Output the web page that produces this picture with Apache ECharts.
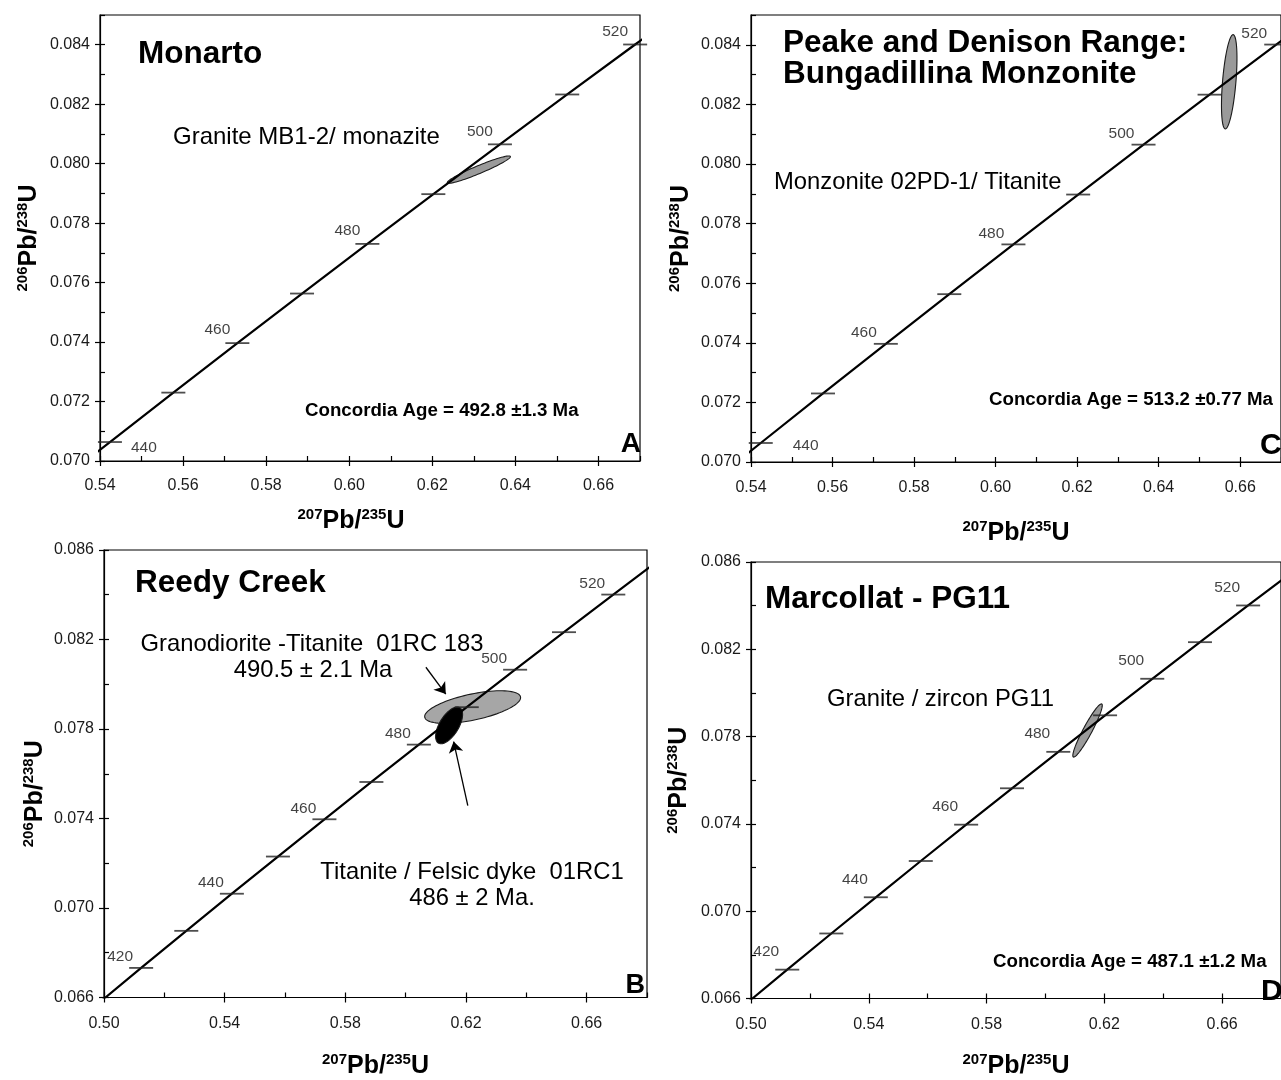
<!DOCTYPE html>
<html>
<head>
<meta charset="utf-8">
<script src="https://cdn.jsdelivr.net/npm/echarts@6/dist/echarts.min.js"></script>
<style>
html,body{margin:0;padding:0;background:#fff;}
#chart{width:1281px;height:1080px;}
</style>
</head>
<body>
<div id="chart"></div>
<script>
// ---------- DATA ----------
// Concordia curve points (age in Ma, 207Pb/235U, 206Pb/238U)
const concAges = [400, 410, 420, 430, 440, 450, 460, 470, 480, 490, 500, 510, 520, 530, 540];
const conc207  = [0.48281, 0.49749, 0.51231, 0.52728, 0.54239, 0.55766, 0.57307, 0.58864, 0.60437, 0.62025, 0.63628, 0.65248, 0.66883, 0.68535, 0.70203];
const conc206  = [0.064016, 0.065667, 0.067322, 0.068979, 0.070638, 0.072300, 0.073965, 0.075632, 0.077302, 0.078975, 0.080650, 0.082327, 0.084008, 0.085691, 0.087376];

// Age ticks shown on the concordia in each panel and the labelled ones
const tickAgesA = [440, 450, 460, 470, 480, 490, 500, 510, 520];
const tickAgesB = [420, 430, 440, 450, 460, 470, 480, 490, 500, 510, 520];
const tickAgesC = [440, 450, 460, 470, 480, 490, 500, 510, 520];
const tickAgesD = [420, 430, 440, 450, 460, 470, 480, 490, 500, 510, 520];
const labelAges = [420, 440, 460, 480, 500, 520];

// Error ellipses: [centre 207/235, centre 206/238, half-range x, half-range y, correlation]
const ellipsesA = [[0.6312, 0.07980, 0.0076, 0.00046, 0.95]];
const ellipsesB = [[0.6222, 0.07898, 0.0159, 0.00073, 0.58], [0.6144, 0.07816, 0.00447, 0.00082, 0.6]];
const ellipsesC = [[0.6573, 0.08276, 0.0019, 0.00158, 0.5]];
const ellipsesD = [[0.6143, 0.07828, 0.0050, 0.00122, 0.94]];

// Annotation arrows in panel B: [x1, y1, x2, y2]
const arrowsB = [[0.6067, 0.08076, 0.6133, 0.07956], [0.6206, 0.07458, 0.6159, 0.07744]];

// Axis tick labels
const xTicksAC = [0.54, 0.56, 0.58, 0.60, 0.62, 0.64, 0.66];
const yTicksAC = [0.070, 0.072, 0.074, 0.076, 0.078, 0.080, 0.082, 0.084];
const xTicksBD = [0.50, 0.54, 0.58, 0.62, 0.66];
const yTicksBD = [0.066, 0.070, 0.074, 0.078, 0.082, 0.086];

// ---------- LAYOUT / STYLE ----------
const FONT = '"Liberation Sans", Arial, Helvetica, sans-serif';
const panels = [
  { grid: {left: 100, top: 15, width: 540, height: 446},
    x: [0.54, 0.67], y: [0.070, 0.085], xTicks: xTicksAC, yTicks: yTicksAC, xMinor: 0.01, yMinor: 0.001,
    tickAges: tickAgesA, ellipses: ellipsesA, fills: ['#9a9a9a'],
    labOff: [-20, 1], rightAge: 440, rightOff: [4, 6], tickW: 24,
    xNameGap: 46, yNameGap: 57, xNamePad: [0, 38, 0, 0], yNamePad: [0, 0, 0, 0], xLabM: 17 },
  { grid: {left: 104, top: 550, width: 543, height: 450},
    x: [0.50, 0.68], y: [0.066, 0.086], xTicks: xTicksBD, yTicks: yTicksBD, xMinor: 0.02, yMinor: 0.002,
    tickAges: tickAgesB, ellipses: ellipsesB, fills: ['#a6a6a6', '#000000'],
    labOff: [-21, 3], rightAge: null, tickW: 24,
    xNameGap: 55, yNameGap: 55, xNamePad: [0, 0, 0, 0], yNamePad: [0, 40, 0, 0], xLabM: 18, arrows: arrowsB },
  { grid: {left: 751, top: 15, width: 540, height: 447},
    x: [0.54, 0.67], y: [0.070, 0.085], xTicks: xTicksAC, yTicks: yTicksAC, xMinor: 0.01, yMinor: 0.001,
    tickAges: tickAgesC, ellipses: ellipsesC, fills: ['#9a9a9a'],
    labOff: [-22, 3], rightAge: 440, rightOff: [15, 3], tickW: 24,
    xNameGap: 57, yNameGap: 56, xNamePad: [0, 0, 0, 0], yNamePad: [0, 0, 0, 0], xLabM: 18 },
  { grid: {left: 751, top: 562, width: 540, height: 443},
    x: [0.50, 0.68], y: [0.066, 0.086], xTicks: xTicksBD, yTicks: yTicksBD, xMinor: 0.02, yMinor: 0.002,
    tickAges: tickAgesD, ellipses: ellipsesD, fills: ['#9a9a9a'],
    labOff: [-21, -4], rightAge: null, tickW: 24,
    xNameGap: 54, yNameGap: 58, xNamePad: [0, 0, 0, 0], yNamePad: [0, 0, 0, 0], xLabM: 18 }
];

const texts = [
  // panel A
  {t: 'Monarto', x: 138, y: 54, s: 31.5, b: true},
  {t: 'Granite MB1-2/ monazite', x: 173, y: 137, s: 24},
  {t: 'Concordia Age = 492.8 \u00b11.3 Ma', x: 305, y: 411, s: 18.7, b: true},
  {t: 'A', x: 641, y: 444, s: 28, b: true, a: 'right'},
  // panel C
  {t: 'Peake and Denison Range:', x: 783, y: 43, s: 31.5, b: true},
  {t: 'Bungadillina Monzonite', x: 783, y: 74, s: 31.5, b: true},
  {t: 'Monzonite 02PD-1/ Titanite', x: 774, y: 182, s: 23.8},
  {t: 'Concordia Age = 513.2 \u00b10.77 Ma', x: 989, y: 400, s: 18.7, b: true},
  {t: 'C', x: 1260, y: 446, s: 30, b: true},
  // panel B
  {t: 'Reedy Creek', x: 135, y: 583, s: 31.5, b: true},
  {t: 'Granodiorite -Titanite  01RC 183', x: 312, y: 644, s: 23.8, a: 'center'},
  {t: '490.5 \u00b1 2.1 Ma', x: 313, y: 670, s: 23.8, a: 'center'},
  {t: 'Titanite / Felsic dyke  01RC1', x: 472, y: 872, s: 23.8, a: 'center'},
  {t: '486 \u00b1 2 Ma.', x: 472, y: 898, s: 23.8, a: 'center'},
  {t: 'B', x: 645, y: 986, s: 27, b: true, a: 'right'},
  // panel D
  {t: 'Marcollat - PG11', x: 765, y: 599, s: 31.5, b: true},
  {t: 'Granite / zircon PG11', x: 827, y: 699, s: 23.8},
  {t: 'Concordia Age = 487.1 \u00b11.2 Ma', x: 993, y: 962, s: 18.7, b: true},
  {t: 'D', x: 1261, y: 992, s: 30, b: true}
];

// ---------- BUILD ----------
const nameRich = {
  b: {fontSize: 25, fontWeight: 'bold', fontFamily: FONT, color: '#000', lineHeight: 28, verticalAlign: 'middle'},
  s: {fontSize: 15, fontWeight: 'bold', fontFamily: FONT, color: '#000', lineHeight: 15, verticalAlign: 'top'}
};
const xName = '{s|207}{b|Pb/}{s|235}{b|U}';
const yName = '{s|206}{b|Pb/}{s|238}{b|U}';
const axisColor = '#000';

const grids = [], xAxes = [], yAxes = [], series = [];

panels.forEach((p, i) => {
  grids.push(Object.assign({show: true, borderColor: '#000', borderWidth: 1.2, containLabel: false}, p.grid));

  xAxes.push({
    type: 'value', gridIndex: i, min: p.x[0], max: p.x[1], position: 'bottom',
    interval: p.xTicks[1] - p.xTicks[0],
    axisLine: {show: true, onZero: false, lineStyle: {color: axisColor, width: 1.2}},
    axisTick: {show: true, inside: false, length: 5, customValues: p.xTicks, lineStyle: {color: axisColor, width: 1.2}},
    axisLabel: {show: true, customValues: p.xTicks, formatter: v => v.toFixed(2), margin: p.xLabM,
      fontSize: 16, color: '#1a1a1a', fontFamily: FONT},
    splitLine: {show: false},
    name: xName, nameLocation: 'middle', nameGap: p.xNameGap,
    nameTextStyle: {rich: nameRich, padding: p.xNamePad}
  });
  xAxes.push({
    type: 'value', gridIndex: i, min: p.x[0], max: p.x[1], position: 'bottom', interval: p.xMinor,
    axisLine: {show: false, onZero: false},
    axisTick: {show: true, inside: true, length: 5, lineStyle: {color: axisColor, width: 1.2}},
    axisLabel: {show: false}, splitLine: {show: false}
  });
  yAxes.push({
    type: 'value', gridIndex: i, min: p.y[0], max: p.y[1], position: 'left',
    interval: p.yTicks[1] - p.yTicks[0],
    axisLine: {show: true, onZero: false, lineStyle: {color: axisColor, width: 1.2}},
    axisTick: {show: true, inside: false, length: 5, customValues: p.yTicks, lineStyle: {color: axisColor, width: 1.2}},
    axisLabel: {show: true, customValues: p.yTicks, formatter: v => v.toFixed(3), margin: 10,
      fontSize: 16, color: '#1a1a1a', fontFamily: FONT},
    splitLine: {show: false},
    name: yName, nameLocation: 'middle', nameGap: p.yNameGap,
    nameTextStyle: {rich: nameRich, padding: p.yNamePad}
  });
  yAxes.push({
    type: 'value', gridIndex: i, min: p.y[0], max: p.y[1], position: 'left', interval: p.yMinor,
    axisLine: {show: false, onZero: false},
    axisTick: {show: true, inside: true, length: 5, lineStyle: {color: axisColor, width: 1.2}},
    axisLabel: {show: false}, splitLine: {show: false}
  });

  const xi = 2 * i, yi = 2 * i;

  // error ellipses
  series.push({
    type: 'custom', xAxisIndex: xi, yAxisIndex: yi, clip: true, z: 2, silent: true,
    data: p.ellipses.map((e, j) => ({value: e, itemStyle: {color: p.fills[j]}})),
    renderItem: function (params, api) {
      const cx = api.value(0), cy = api.value(1), sx = api.value(2), sy = api.value(3), r = api.value(4);
      const q = Math.sqrt(1 - r * r);
      const pts = [];
      for (let k = 0; k < 90; k++) {
        const t = k / 90 * Math.PI * 2;
        pts.push(api.coord([cx + sx * Math.cos(t), cy + sy * (r * Math.cos(t) + q * Math.sin(t))]));
      }
      return {type: 'polygon', shape: {points: pts},
        style: {fill: api.visual('color'), stroke: '#1a1a1a', lineWidth: 1.1}};
    }
  });

  // concordia curve
  const lineSeries = {
    type: 'line', xAxisIndex: xi, yAxisIndex: yi, z: 3, clip: true, silent: true,
    data: concAges.map((a, k) => [conc207[k], conc206[k]]),
    showSymbol: false, symbol: 'none', smooth: false,
    lineStyle: {color: '#000', width: 2.2}
  };
  if (p.arrows) {
    lineSeries.markLine = {
      silent: true, symbol: ['none', 'arrow'], symbolSize: 11, animation: false,
      label: {show: false},
      lineStyle: {color: '#000', width: 1.3, type: 'solid'},
      emphasis: {disabled: true},
      data: p.arrows.map(a => [{coord: [a[0], a[1]]}, {coord: [a[2], a[3]]}])
    };
  }
  series.push(lineSeries);

  // age ticks on concordia
  series.push({
    type: 'scatter', xAxisIndex: xi, yAxisIndex: yi, z: 4, silent: true,
    symbol: 'rect', symbolSize: [p.tickW, 1.8],
    itemStyle: {color: '#222'},
    label: {show: false, position: 'top', offset: p.labOff, fontSize: 15.5, color: '#111', fontFamily: FONT,
      formatter: prm => String(prm.value[2])},
    data: p.tickAges.map(a => {
      const k = concAges.indexOf(a);
      const item = {value: [conc207[k], conc206[k], a], label: {show: labelAges.indexOf(a) >= 0}};
      if (p.rightAge === a) item.label = {show: true, position: 'right', offset: p.rightOff};
      return item;
    })
  });
});

const graphic = texts.map(o => ({
  type: 'text', x: o.x, y: o.y, silent: true, z: 10,
  style: {
    text: o.t, fill: '#000',
    font: (o.b ? 'bold ' : '') + o.s + 'px ' + FONT,
    align: o.a || 'left', verticalAlign: 'middle',
    textAlign: o.a || 'left', textVerticalAlign: 'middle'
  }
}));

const chart = echarts.init(document.getElementById('chart'), null, {renderer: 'canvas'});
chart.setOption({
  backgroundColor: '#ffffff',
  animation: false,
  textStyle: {fontFamily: FONT},
  grid: grids, xAxis: xAxes, yAxis: yAxes, series: series,
  graphic: graphic
});
</script>
</body>
</html>
